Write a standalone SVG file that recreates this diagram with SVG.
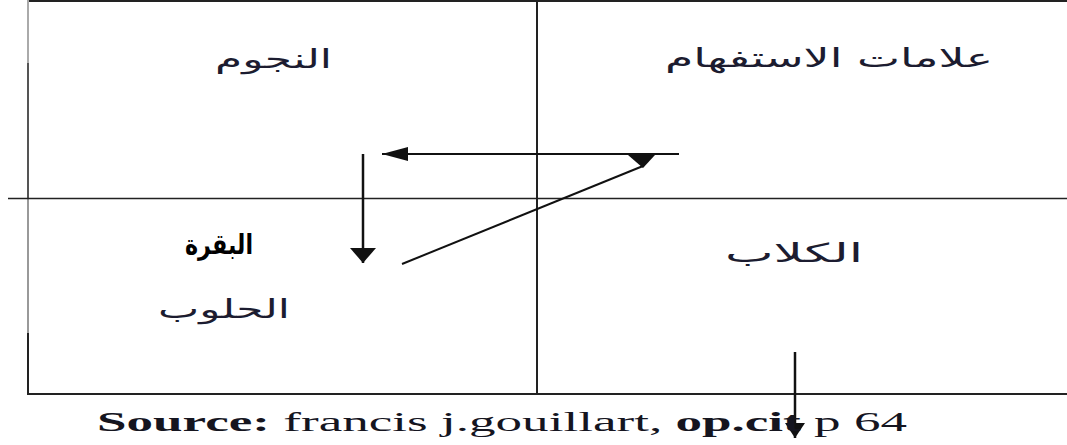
<svg xmlns="http://www.w3.org/2000/svg" width="1067" height="445" viewBox="0 0 1067 445">
<style>
.frame{stroke:#222;stroke-width:2;fill:none}
.conn{stroke:#111;stroke-width:2.5;fill:none}
.ar{font-family:"DejaVu Sans","Noto Sans",sans-serif;font-size:26px;fill:#1c1c30;text-anchor:middle}
.arb{font-family:"DejaVu Sans","Noto Sans",sans-serif;font-size:28px;font-weight:bold;fill:#000;text-anchor:middle}
.src{font-family:"Liberation Serif",serif;font-size:27px;fill:#15151f}
</style>
<defs>
<marker id="ahH" viewBox="0 0 26 14" refX="26" refY="7" markerWidth="26" markerHeight="14" markerUnits="userSpaceOnUse" orient="auto">
<path d="M0,0 L26,7 L0,14 z" fill="#111"/>
</marker>
<marker id="ahV" viewBox="0 0 15 26" refX="15" refY="13" markerWidth="15" markerHeight="26" markerUnits="userSpaceOnUse" orient="auto">
<path d="M0,0 L15,13 L0,26 z" fill="#111"/>
</marker>
<marker id="ahV2" viewBox="0 0 15 20" refX="15" refY="10" markerWidth="15" markerHeight="20" markerUnits="userSpaceOnUse" orient="auto">
<path d="M0,0 L15,10 L0,20 z" fill="#111"/>
</marker>
<marker id="ahD" viewBox="-15 -11 27 13" refX="0" refY="0" markerWidth="27" markerHeight="13" markerUnits="userSpaceOnUse" orient="0">
<path d="M-15,-11 L12,-11 L0,2 z" fill="#111"/>
</marker>
</defs>
<g id="frame">
<line class="frame" x1="28" y1="1" x2="1067" y2="1"/>
<line class="frame" x1="28" y1="0" x2="28" y2="63" style="stroke:#aaa"/>
<line class="frame" x1="28" y1="63" x2="28" y2="198" style="stroke:#555"/>
<line class="frame" x1="28" y1="198" x2="28" y2="333" style="stroke:#999"/>
<line class="frame" x1="28" y1="333" x2="28" y2="395" style="stroke:#222"/>
<line class="frame" x1="28" y1="394" x2="1067" y2="394"/>
<line class="frame" x1="537" y1="0" x2="537" y2="394"/>
<line class="frame" x1="8" y1="198.5" x2="1067" y2="198.5" style="stroke-width:1.5"/>
</g>
<g id="n-stars"><text class="ar" x="273.5" y="68" textLength="117" lengthAdjust="spacingAndGlyphs">النجوم</text></g>
<g id="n-question"><text class="ar" x="829" y="67" textLength="328" lengthAdjust="spacingAndGlyphs">علامات الاستفهام</text></g>
<g id="n-cow"><text class="arb" x="219" y="254" textLength="68" lengthAdjust="spacingAndGlyphs">البقرة</text><text class="ar" x="224" y="318" textLength="132" lengthAdjust="spacingAndGlyphs">الحلوب</text></g>
<g id="n-dogs"><text class="ar" x="794" y="262" textLength="138" lengthAdjust="spacingAndGlyphs">الكلاب</text></g>
<g id="connectors">
<line class="conn" x1="679" y1="154" x2="382" y2="154" marker-end="url(#ahH)" style="stroke-width:2"/>
<line class="conn" x1="363" y1="154" x2="363" y2="263" marker-end="url(#ahV)"/>
<line class="conn" x1="402" y1="264" x2="643" y2="166" marker-end="url(#ahD)" style="stroke-width:2"/>
<line class="conn" x1="795" y1="352" x2="795" y2="438" marker-end="url(#ahV2)"/>
</g>
<g id="source"><text class="src" x="97" y="431" textLength="810" lengthAdjust="spacingAndGlyphs"><tspan font-weight="bold">Source:</tspan>  francis j.gouillart, <tspan font-weight="bold">op.cit</tspan>  p 64</text></g>
</svg>
